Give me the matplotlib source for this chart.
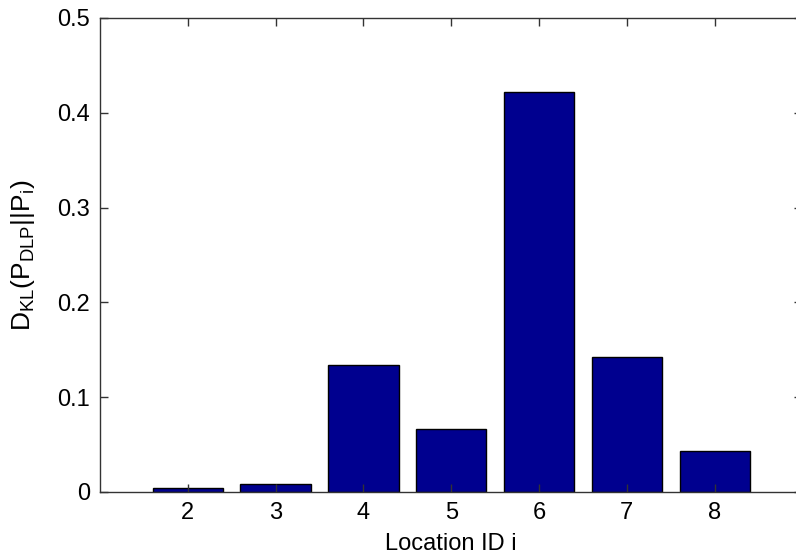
import matplotlib
matplotlib.use("Agg")
import matplotlib.pyplot as plt

# values
locations = [2, 3, 4, 5, 6, 7, 8]
dkl_values = [0.0046, 0.0089, 0.1337, 0.0662, 0.4222, 0.1425, 0.0433]
y_ticks = [0, 0.1, 0.2, 0.3, 0.4, 0.5]
y_tick_labels = ["0", "0.1", "0.2", "0.3", "0.4", "0.5"]

plt.rcParams['font.family'] = ['Liberation Sans', 'DejaVu Sans']
plt.rcParams['mathtext.fontset'] = 'custom'
plt.rcParams['mathtext.rm'] = 'Liberation Sans'
plt.rcParams['mathtext.it'] = 'Liberation Sans'

fig = plt.figure(figsize=(7.96, 5.58), dpi=100)
# axes box: left 100px, top 18px, bottom 492px; right spine falls just outside the image
ax = fig.add_axes([100 / 796, (558 - 492) / 558, 702.5 / 796, 474 / 558])

ax.bar(locations, dkl_values, width=0.8, color='#00008f', edgecolor='black', linewidth=1)

ax.set_xlim(1, 9)
ax.set_ylim(0, 0.5)
ax.set_xticks(locations)
ax.set_yticks(y_ticks)
ax.set_yticklabels(y_tick_labels)
ax.tick_params(direction='in', length=6, width=1, top=True, right=True,
               labelsize=17, colors='#333333', labelcolor='black', pad=7)
for s in ax.spines.values():
    s.set_color('#333333')
    s.set_linewidth(1)

ax.set_xlabel("Location ID i", fontsize=17, labelpad=7)
ax.set_ylabel(r"$\mathregular{D_{KL}(P_{DLP}||P_i)}$", fontsize=19, labelpad=15)

fig.savefig("out.png", dpi=100)
